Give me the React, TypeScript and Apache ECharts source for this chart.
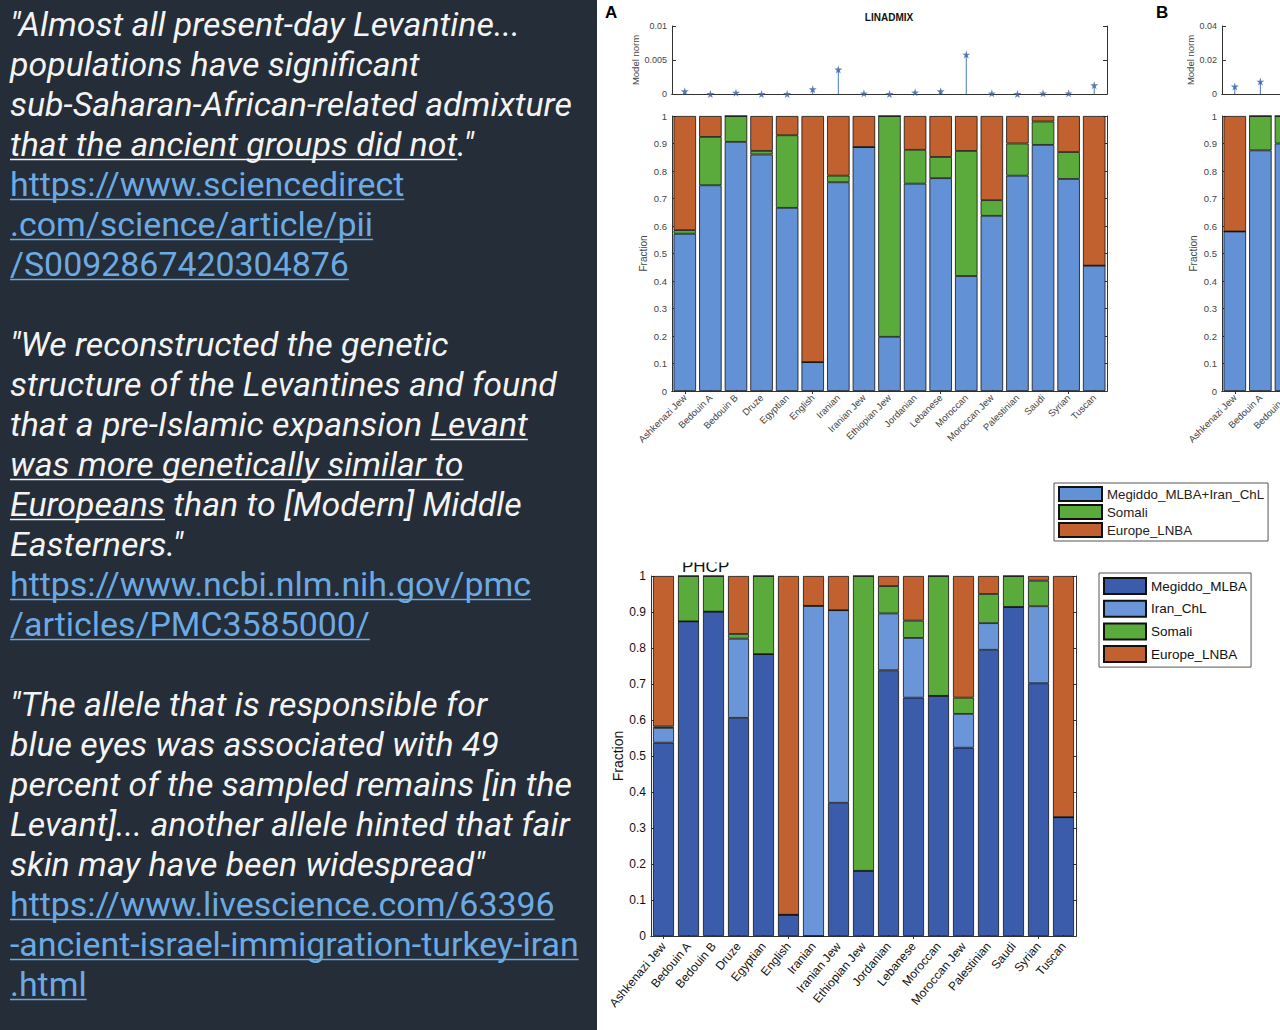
import React, { useEffect, useRef } from "react";
import * as echarts from "echarts";

// ---------------- data ----------------
const categories = [
  "Ashkenazi Jew", "Bedouin A", "Bedouin B", "Druze", "Egyptian", "English", "Iranian",
  "Iranian Jew", "Ethiopian Jew", "Jordanian", "Lebanese", "Moroccan", "Moroccan Jew",
  "Palestinian", "Saudi", "Syrian", "Tuscan",
];

// Panel A (LINADMIX)
const linNorm = [0.0004, 0, 0.0002, 0, 0, 0.0007, 0.0036, 0.0001, 0, 0.00024, 0.0004, 0.0058, 0.0001, 0, 0.0001, 0.0001, 0.0013];
const linMegiddoIran = [0.572, 0.748, 0.906, 0.86, 0.666, 0.105, 0.759, 0.887, 0.197, 0.754, 0.774, 0.418, 0.637, 0.783, 0.895, 0.771, 0.456];
const linSomali = [0.013, 0.176, 0.094, 0.013, 0.264, 0, 0.024, 0, 0.803, 0.123, 0.077, 0.455, 0.057, 0.117, 0.085, 0.098, 0];
const linEurope = [0.415, 0.076, 0, 0.127, 0.07, 0.895, 0.217, 0.113, 0, 0.123, 0.149, 0.127, 0.306, 0.1, 0.02, 0.131, 0.544];

// Panel B (cropped at the image edge: only the first groups are visible)
const bNorm = [0.0044, 0.0073, null];
const bMegiddoIran = [0.58, 0.875, 0.9];
const bSomali = [0, 0.125, 0.1];
const bEurope = [0.42, 0, 0];
const bVisibleLabels = 3;

// PHCP panel
const phMegiddo = [0.537, 0.874, 0.901, 0.606, 0.783, 0.059, 0, 0.37, 0.181, 0.738, 0.662, 0.667, 0.523, 0.795, 0.914, 0.702, 0.33];
const phIran = [0.041, 0, 0, 0.22, 0, 0, 0.917, 0.535, 0, 0.158, 0.166, 0, 0.094, 0.074, 0, 0.214, 0];
const phSomali = [0.004, 0.126, 0.099, 0.013, 0.217, 0, 0, 0, 0.819, 0.076, 0.048, 0.333, 0.045, 0.081, 0.086, 0.071, 0];
const phEurope = [0.418, 0, 0, 0.161, 0, 0.941, 0.083, 0.095, 0, 0.028, 0.124, 0, 0.338, 0.05, 0, 0.013, 0.67];

const legendA = ["Megiddo_MLBA+Iran_ChL", "Somali", "Europe_LNBA"];
const legendP = ["Megiddo_MLBA", "Iran_ChL", "Somali", "Europe_LNBA"];

const fractionTicks = { min: 0, max: 1, interval: 0.1 };
const normTicksA = { min: 0, max: 0.01, interval: 0.005 };
const normTicksB = { min: 0, max: 0.04, interval: 0.02 };

// Left text panel
type Seg = { t: string; u?: boolean; link?: boolean };
const textLines: (Seg[] | null)[] = [
  [{ t: '"Almost all present-day Levantine...' }],
  [{ t: "populations have significant" }],
  [{ t: "sub-Saharan-African-related admixture" }],
  [{ t: "that the ancient groups did not", u: true }, { t: '."' }],
  [{ t: "https://www.sciencedirect", link: true }],
  [{ t: ".com/science/article/pii", link: true }],
  [{ t: "/S0092867420304876", link: true }],
  null,
  [{ t: '"We reconstructed the genetic' }],
  [{ t: "structure of the Levantines and found" }],
  [{ t: "that a pre-Islamic expansion " }, { t: "Levant", u: true }],
  [{ t: "was more genetically similar to", u: true }],
  [{ t: "Europeans", u: true }, { t: " than to [Modern] Middle" }],
  [{ t: 'Easterners."' }],
  [{ t: "https://www.ncbi.nlm.nih.gov/pmc", link: true }],
  [{ t: "/articles/PMC3585000/", link: true }],
  null,
  [{ t: '"The allele that is responsible for' }],
  [{ t: "blue eyes was associated with 49" }],
  [{ t: "percent of the sampled remains [in the" }],
  [{ t: "Levant]... another allele hinted that fair" }],
  [{ t: 'skin may have been widespread"' }],
  [{ t: "https://www.livescience.com/63396", link: true }],
  [{ t: "-ancient-israel-immigration-turkey-iran", link: true }],
  [{ t: ".html", link: true }],
];

// ---------------- styles ----------------
const FONT = "'Liberation Sans', Arial, Helvetica, sans-serif";
const C_BLUE = "#6391d6";
const C_DARK = "#3b5bab";
const C_LIGHT = "#6a95d8";
const C_GREEN = "#5aab3b";
const C_ORANGE = "#c0612f";
const AXIS = "#333";

const fmt = (v: number) => String(Math.round(v * 100000) / 100000);

export default function App() {
  const ref = useRef<HTMLDivElement>(null);

  useEffect(() => {
    document.body.style.margin = "0";
    const chart = echarts.init(ref.current!, undefined, { renderer: "svg" });

    const grids: any[] = [];
    const xAxes: any[] = [];
    const yAxes: any[] = [];

    function addPanel(g: any, o: any) {
      grids.push({ ...g, outerBoundsMode: "none", containLabel: false });
      const gi = grids.length - 1;
      const xi = xAxes.length;
      xAxes.push({
        type: "category", gridIndex: gi, data: categories, position: "bottom",
        axisLine: { lineStyle: { color: AXIS, width: 1 } },
        axisTick: { show: o.xTicks, inside: true, alignWithLabel: true, length: 3, lineStyle: { color: AXIS } },
        axisLabel: o.xLabels
          ? {
              show: true, rotate: o.xRotate, fontSize: o.xFont, color: o.xColor, fontFamily: FONT, margin: o.xMargin,
              interval: o.labelCount ? (idx: number) => idx < o.labelCount : 0,
            }
          : { show: false },
      });
      xAxes.push({
        type: "category", gridIndex: gi, data: categories, position: "top",
        axisLine: { lineStyle: { color: AXIS, width: 1 } },
        axisTick: { show: o.xTicks, inside: true, alignWithLabel: true, length: 3, lineStyle: { color: AXIS } },
        axisLabel: { show: false },
      });
      const yi = yAxes.length;
      yAxes.push({
        type: "value", gridIndex: gi, position: "left", ...o.ticks,
        name: o.yName, nameLocation: "middle", nameGap: o.nameGap, nameRotate: 90,
        nameTextStyle: { fontSize: o.nameFont, color: o.yColor, fontFamily: FONT },
        axisLine: { show: true, lineStyle: { color: AXIS, width: 1 } },
        axisTick: { show: true, inside: true, length: 4, lineStyle: { color: AXIS } },
        axisLabel: { fontSize: o.yFont, color: o.yColor, fontFamily: FONT, margin: 5, formatter: fmt },
        splitLine: { show: false },
      });
      yAxes.push({
        type: "value", gridIndex: gi, position: "right", ...o.ticks,
        axisLine: { show: true, lineStyle: { color: AXIS, width: 1 } },
        axisTick: { show: true, inside: true, length: 4, lineStyle: { color: AXIS } },
        axisLabel: { show: false },
        splitLine: { show: false },
      });
      return { xi, yi };
    }

    const topBase = { xLabels: false, xTicks: false, yFont: 9, yColor: "#444", nameFont: 9.5, nameGap: 30 };
    const fracBase = { xLabels: true, xTicks: true, xRotate: 45, xFont: 9.5, xColor: "#444", xMargin: 5, yFont: 9.5, yColor: "#444", yName: "Fraction", nameFont: 10, nameGap: 24, ticks: fractionTicks };

    const aNorm = addPanel({ left: 672, top: 26, width: 435, height: 68 }, { ...topBase, ticks: normTicksA, yName: "Model norm" });
    const aBars = addPanel({ left: 672, top: 116, width: 435, height: 275 }, fracBase);
    const bNormP = addPanel({ left: 1222, top: 26, width: 435, height: 68 }, { ...topBase, ticks: normTicksB, yName: "Model norm", nameGap: 26 });
    const bBars = addPanel({ left: 1222, top: 116, width: 435, height: 275 }, { ...fracBase, labelCount: bVisibleLabels });
    const pBars = addPanel({ left: 651, top: 576, width: 425, height: 360 }, {
      xLabels: true, xTicks: true, xRotate: 50, xFont: 12, xColor: "#111", xMargin: 8, yFont: 12, yColor: "#111",
      yName: "Fraction", nameFont: 14, nameGap: 22, ticks: fractionTicks,
    });

    const STAR = "path://M50,0 L61,35 98,35 68,57 79,91 50,70 21,91 32,57 2,35 39,35 Z";
    const stem = (p: any, data: any[], name: string) => [
      { type: "bar", name: name + " stem", xAxisIndex: p.xi, yAxisIndex: p.yi, data, barWidth: 1, itemStyle: { color: "#4a78bd" }, silent: true },
      { type: "scatter", name: name + " marker", xAxisIndex: p.xi, yAxisIndex: p.yi, data, symbol: STAR, symbolSize: 8, itemStyle: { color: "#3a5fa3" }, silent: true },
    ];
    const bar = (p: any, stack: string, name: string, data: any[], color: string, width: number) => ({
      type: "bar", name, stack, xAxisIndex: p.xi, yAxisIndex: p.yi, data, barWidth: width,
      itemStyle: { color, borderColor: "#111", borderWidth: 0.8 }, silent: true,
    });

    const series: any[] = [
      ...stem(aNorm, linNorm, "A"),
      bar(aBars, "A", legendA[0], linMegiddoIran, C_BLUE, 22.5),
      bar(aBars, "A", legendA[1], linSomali, C_GREEN, 22.5),
      bar(aBars, "A", legendA[2], linEurope, C_ORANGE, 22.5),
      ...stem(bNormP, bNorm, "B"),
      bar(bBars, "B", legendA[0], bMegiddoIran, C_BLUE, 22.5),
      bar(bBars, "B", legendA[1], bSomali, C_GREEN, 22.5),
      bar(bBars, "B", legendA[2], bEurope, C_ORANGE, 22.5),
      bar(pBars, "P", legendP[0], phMegiddo, C_DARK, 21),
      bar(pBars, "P", legendP[1], phIran, C_LIGHT, 21),
      bar(pBars, "P", legendP[2], phSomali, C_GREEN, 21),
      bar(pBars, "P", legendP[3], phEurope, C_ORANGE, 21),
    ];

    // ---------- left text panel ----------
    const ctx = document.createElement("canvas").getContext("2d")!;
    ctx.font = "italic 32px Roboto";
    const refW = ctx.measureText("sub-Saharan-African-related admixture").width;
    const fs = Math.max(26, Math.min(36, (32 * 562) / refW));
    const fItalic = `italic ${fs}px Roboto`;
    const fLink = `${fs}px Roboto`;
    const graphics: any[] = [
      { type: "rect", shape: { x: 0, y: 0, width: 597, height: 1030 }, style: { fill: "#242d38" }, z: 0 },
    ];
    textLines.forEach((line, i) => {
      if (!line) return;
      const y = 24 + 40 * i;
      let x = 10;
      line.forEach((seg) => {
        const font = seg.link ? fLink : fItalic;
        const fill = seg.link ? "#6eaae2" : "#f3f3f3";
        graphics.push({
          type: "text", x, y, z: 2,
          style: { text: seg.t, font, fill, verticalAlign: "middle", textVerticalAlign: "middle", align: "left" },
        });
        ctx.font = font;
        const w = ctx.measureText(seg.t).width;
        if (seg.u || seg.link) {
          graphics.push({
            type: "line", z: 2,
            shape: { x1: x, y1: y + 15.5, x2: x + w, y2: y + 15.5 },
            style: { stroke: fill, lineWidth: 1.5 },
          });
        }
        x += w;
      });
    });

    graphics.push(
      { type: "text", x: 605, y: 4, z: 5, style: { text: "A", font: `bold 17px ${FONT}`, fill: "#000" } },
      { type: "text", x: 1156, y: 4, z: 5, style: { text: "B", font: `bold 17px ${FONT}`, fill: "#000" } },
      { type: "text", x: 889, y: 17, z: 5, style: { text: "LINADMIX", font: `bold 10px ${FONT}`, fill: "#111", align: "center", textAlign: "center", verticalAlign: "middle", textVerticalAlign: "middle" } },
      { type: "text", x: 682, y: 575, z: 5, style: { text: "PHCP", font: `17px ${FONT}`, fill: "#111", verticalAlign: "bottom", textVerticalAlign: "bottom" } },
      { type: "rect", z: 6, shape: { x: 600, y: 530, width: 300, height: 32.5 }, style: { fill: "#fff" } },
    );

    const legendCommon = {
      orient: "vertical", icon: "rect", selectedMode: false,
      borderColor: "#555", borderWidth: 1, backgroundColor: "#fff",
    };

    chart.setOption({
      animation: false,
      backgroundColor: "#ffffff",
      grid: grids,
      xAxis: xAxes,
      yAxis: yAxes,
      legend: [
        {
          ...legendCommon, data: legendA, left: 1054, top: 483,
          itemWidth: 43, itemHeight: 14, itemGap: 2, padding: [3, 4, 3, 4],
          textStyle: { fontSize: 13.3, color: "#222", fontFamily: FONT },
        },
        {
          ...legendCommon, data: legendP, left: 1099, top: 573,
          itemWidth: 42, itemHeight: 16, itemGap: 4.7, padding: [4, 4, 4, 4],
          textStyle: { fontSize: 13.5, color: "#111", fontFamily: FONT },
        },
      ],
      series,
      graphic: { elements: graphics },
    });

    return () => chart.dispose();
  }, []);

  return (
    <div
      ref={ref}
      style={{ position: "absolute", left: 0, top: 0, width: 1280, height: 1030 }}
    />
  );
}
